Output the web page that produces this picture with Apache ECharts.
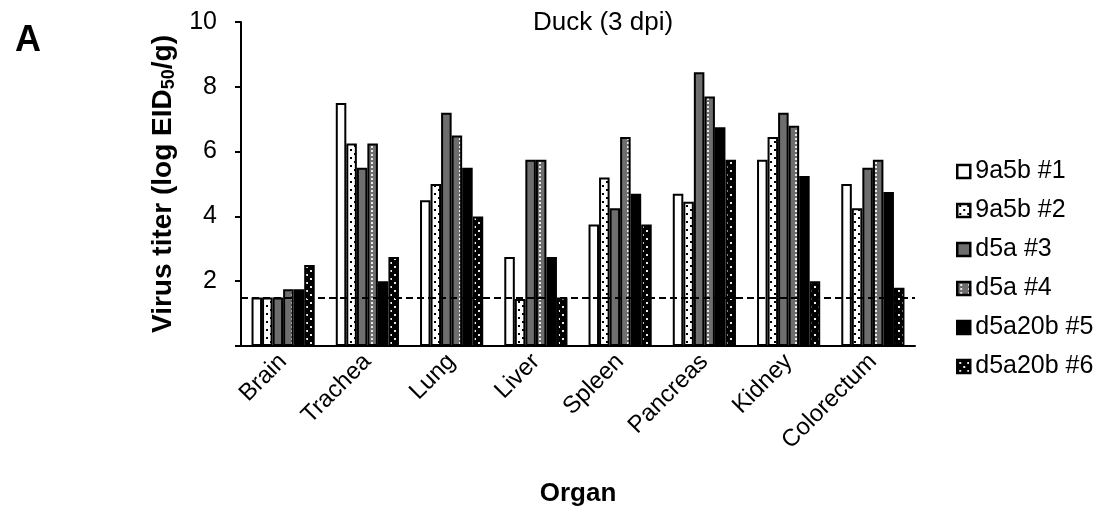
<!DOCTYPE html>
<html>
<head>
<meta charset="utf-8">
<script src="https://cdn.jsdelivr.net/npm/echarts@6/dist/echarts.min.js"></script>
<style>
html,body{margin:0;padding:0;background:#fff;}
#chart{width:1105px;height:515px;}
</style>
</head>
<body>
<div id="chart"></div>
<script>
const categories = ['Brain', 'Trachea', 'Lung', 'Liver', 'Spleen', 'Pancreas', 'Kidney', 'Colorectum'];
const seriesNames = ['9a5b #1', '9a5b #2', 'd5a #3', 'd5a #4', 'd5a20b #5', 'd5a20b #6'];
const s1 = [1.5, 7.5, 4.5, 2.75, 3.75, 4.7, 5.75, 5.0];
const s2 = [1.5, 6.25, 5.0, 1.45, 5.2, 4.45, 6.45, 4.25];
const s3 = [1.5, 5.5, 7.2, 5.75, 4.25, 8.45, 7.2, 5.5];
const s4 = [1.75, 6.25, 6.5, 5.75, 6.45, 7.7, 6.8, 5.75];
const s5 = [1.75, 2.0, 5.5, 2.75, 4.7, 6.75, 5.25, 4.75];
const s6 = [2.5, 2.75, 4.0, 1.5, 3.75, 5.75, 2.0, 1.8];
const detectionLimit = 1.5;
const yTicks = [0, 2, 4, 6, 8, 10];

function makePattern(bg, dot, dots, size) {
  const c = document.createElement('canvas');
  c.width = size; c.height = size;
  const ctx = c.getContext('2d');
  ctx.fillStyle = bg; ctx.fillRect(0, 0, size, size);
  if (dot) {
    ctx.fillStyle = dot;
    dots.forEach(d => ctx.fillRect(d[0], d[1], 2, 2));
  }
  return { image: c, repeat: 'repeat' };
}

const fills = [
  '#ffffff',
  makePattern('#ffffff', '#000000', [[2, 1], [6, 5]], 8),
  '#6e6e6e',
  makePattern('#6e6e6e', '#f2e6e6', [[3, 2], [3, 6]], 8),
  '#000000',
  makePattern('#000000', '#f5eaea', [[2, 2], [6, 6]], 8)
];
const data = [s1, s2, s3, s4, s5, s6];
const FONT = '"Liberation Sans", Arial, Helvetica, sans-serif';

const series = data.map((d, i) => {
  const s = {
    name: seriesNames[i],
    type: 'bar',
    data: d,
    barGap: '0%',
    barCategoryGap: '25%',
    itemStyle: { color: fills[i], borderColor: '#000', borderWidth: 2 },
    emphasis: { disabled: true }
  };
  if (i === data.length - 1) {
    s.markLine = {
      silent: true,
      symbol: ['none', 'none'],
      label: { show: false },
      lineStyle: { color: '#000', type: [7, 4], width: 2 },
      data: [{ yAxis: detectionLimit }]
    };
  }
  return s;
});

const chart = echarts.init(document.getElementById('chart'), null, { renderer: 'canvas' });
chart.setOption({
  animation: false,
  backgroundColor: '#fff',
  textStyle: { fontFamily: FONT },
  title: [
    { text: 'Duck (3 dpi)', left: 598, top: 5, textAlign: 'center',
      textStyle: { fontSize: 26, fontWeight: 'normal', color: '#000', fontFamily: FONT } },
    { text: 'A', left: 10, top: 18,
      textStyle: { fontSize: 36, fontWeight: 'bold', color: '#000', fontFamily: FONT } }
  ],
  legend: {
    orient: 'vertical',
    left: 951,
    top: 154,
    itemWidth: 13,
    itemHeight: 13,
    itemGap: 14,
    icon: 'rect',
    selectedMode: false,
    itemStyle: { borderWidth: 2.5, borderColor: '#000' },
    textStyle: { fontSize: 25, color: '#000', fontFamily: FONT },
    data: seriesNames
  },
  grid: { left: 241, right: 190, top: 22, bottom: 169, containLabel: false },
  xAxis: {
    type: 'category',
    data: categories,
    name: 'Organ',
    nameLocation: 'middle',
    nameGap: 135,
    nameTextStyle: { fontSize: 26, fontWeight: 'bold', color: '#000', fontFamily: FONT },
    axisLine: { lineStyle: { color: '#000', width: 2 } },
    axisTick: { show: false },
    axisLabel: { rotate: 45, fontSize: 24, color: '#000', margin: 12, interval: 0, fontFamily: FONT }
  },
  yAxis: {
    type: 'value',
    min: yTicks[0],
    max: yTicks[yTicks.length - 1],
    interval: 2,
    name: '{a|Virus titer (log EID}{s|50}{a|/g)}',
    nameLocation: 'middle',
    nameGap: 60,
    nameTextStyle: {
      color: '#000',
      rich: {
        a: { fontSize: 28, fontWeight: 'bold', color: '#000', fontFamily: FONT },
        s: { fontSize: 18, fontWeight: 'bold', color: '#000', fontFamily: FONT, verticalAlign: 'bottom', padding: [13, 0, 0, 0] }
      }
    },
    axisLine: { show: true, lineStyle: { color: '#000', width: 2 } },
    axisTick: { show: true, length: 6, lineStyle: { color: '#000', width: 2 } },
    splitLine: { show: false },
    axisLabel: {
      fontSize: 25, color: '#000', margin: 24, fontFamily: FONT,
      formatter: v => (v === 0 ? '' : String(v))
    }
  },
  series: series
});
</script>
</body>
</html>
